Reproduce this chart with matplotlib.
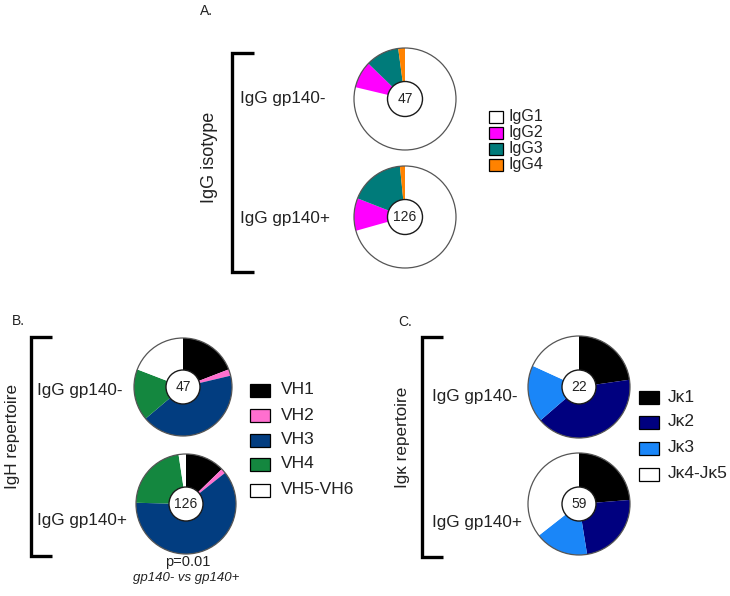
import matplotlib
matplotlib.use("Agg")
import matplotlib.pyplot as plt
from matplotlib.patches import Circle, Rectangle

plt.rcParams['font.family'] = ['Liberation Sans', 'DejaVu Sans']

# ---- data ----
groups = ["IgG gp140-", "IgG gp140+"]

isotype_labels = ["IgG1", "IgG2", "IgG3", "IgG4"]
isotype_neg = [37, 4, 5, 1]
isotype_pos = [89, 13, 22, 2]
isotype_colors = ["#FFFFFF", "#FF00FF", "#007B7A", "#FF8200"]

vh_labels = ["VH1", "VH2", "VH3", "VH4", "VH5-VH6"]
vh_neg = [9, 1, 20, 8, 9]
vh_pos = [16, 2, 77, 28, 3]
vh_colors = ["#000000", "#FF6FCF", "#023D80", "#14873F", "#FFFFFF"]

jk_labels = ["Jκ1", "Jκ2", "Jκ3", "Jκ4-Jκ5"]
jk_neg = [5, 9, 4, 4]
jk_pos = [14, 14, 10, 21]
jk_colors = ["#000000", "#00007F", "#1A86F8", "#FFFFFF"]

W, H = 730, 596
fig = plt.figure(figsize=(7.3, 5.96), dpi=100)
ax = fig.add_axes([0, 0, 1, 1])
TXT = "#222222"


def Y(y):
    return H - y


def donut(vals, colors, cx, cy, r, ri, n):
    ax.pie(vals, colors=colors, startangle=90, counterclock=False,
           center=(cx, Y(cy)), radius=r,
           wedgeprops=dict(linewidth=0, antialiased=True))
    ax.add_patch(Circle((cx, Y(cy)), r, fill=False, edgecolor="#555555", lw=0.9, zorder=3))
    ax.add_patch(Circle((cx, Y(cy)), ri, facecolor="white", edgecolor="#1a1a1a", lw=1.0, zorder=4))
    ax.text(cx, Y(cy), str(n), ha="center", va="center", fontsize=10, color=TXT, zorder=5)


def bracket(x, y0, y1, x1):
    ax.plot([x1, x, x, x1], [Y(y0), Y(y0), Y(y1), Y(y1)], color="black", lw=2.4,
            solid_joinstyle="miter", solid_capstyle="butt")


def legend(labels, colors, x, ys, w, h, tx, fs):
    for lab, col, y in zip(labels, colors, ys):
        ax.add_patch(Rectangle((x, Y(y) - h / 2), w, h, facecolor=col, edgecolor="black", lw=0.9))
        ax.text(tx, Y(y), lab, ha="left", va="center", fontsize=fs, color=TXT)


fs = 12.3

# ---- Panel A ----
ax.text(200, Y(11), "A.", fontsize=10, ha="left", va="center", color=TXT)
bracket(232, 53, 272, 254)
ax.text(209, Y(157), "IgG isotype", rotation=90, ha="center", va="center", fontsize=13, color=TXT)
ax.text(240, Y(98), groups[0], ha="left", va="center", fontsize=fs, color=TXT)
ax.text(240, Y(218), groups[1], ha="left", va="center", fontsize=fs, color=TXT)
donut(isotype_neg, isotype_colors, 405, 99, 51, 17.5, sum(isotype_neg))
donut(isotype_pos, isotype_colors, 405, 217, 51, 17.5, sum(isotype_pos))
legend(isotype_labels, isotype_colors, 489, [117, 133, 149, 165], 14, 12, 508, 11.5)

# ---- Panel B ----
ax.text(12, Y(321), "B.", fontsize=10, ha="left", va="center", color=TXT)
bracket(31, 337, 556, 52)
ax.text(13, Y(436), "IgH repertoire", rotation=90, ha="center", va="center", fontsize=fs, color=TXT)
ax.text(37, Y(390), groups[0], ha="left", va="center", fontsize=fs, color=TXT)
ax.text(37, Y(520), groups[1], ha="left", va="center", fontsize=fs, color=TXT)
donut(vh_neg, vh_colors, 183, 387, 49, 17, sum(vh_neg))
donut(vh_pos, vh_colors, 186, 504, 50, 17, sum(vh_pos))
legend(vh_labels, vh_colors, 250, [390, 415, 440, 464, 490], 20, 13, 281, 12.5)
ax.text(188, Y(562), "p=0.01", ha="center", va="center", fontsize=10.5, color=TXT)
ax.text(186, Y(578), "gp140- vs gp140+", ha="center", va="center", fontsize=9.5,
        style="italic", color=TXT)

# ---- Panel C ----
ax.text(398, Y(322), "C.", fontsize=10, ha="left", va="center", color=TXT)
bracket(422, 337, 557, 443)
ax.text(403, Y(437), "Igκ repertoire", rotation=90, ha="center", va="center", fontsize=fs, color=TXT)
ax.text(432, Y(397), groups[0], ha="left", va="center", fontsize=fs, color=TXT)
ax.text(432, Y(522), groups[1], ha="left", va="center", fontsize=fs, color=TXT)
donut(jk_neg, jk_colors, 579, 387, 51, 17, sum(jk_neg))
donut(jk_pos, jk_colors, 579, 504, 51, 17, sum(jk_pos))
legend(jk_labels, jk_colors, 639, [397, 422, 448, 474], 20, 13, 668, 12.5)

ax.set_xlim(0, W)
ax.set_ylim(0, H)
ax.set_aspect("auto")
ax.axis("off")
fig.savefig("out.png", dpi=100, facecolor="white")
